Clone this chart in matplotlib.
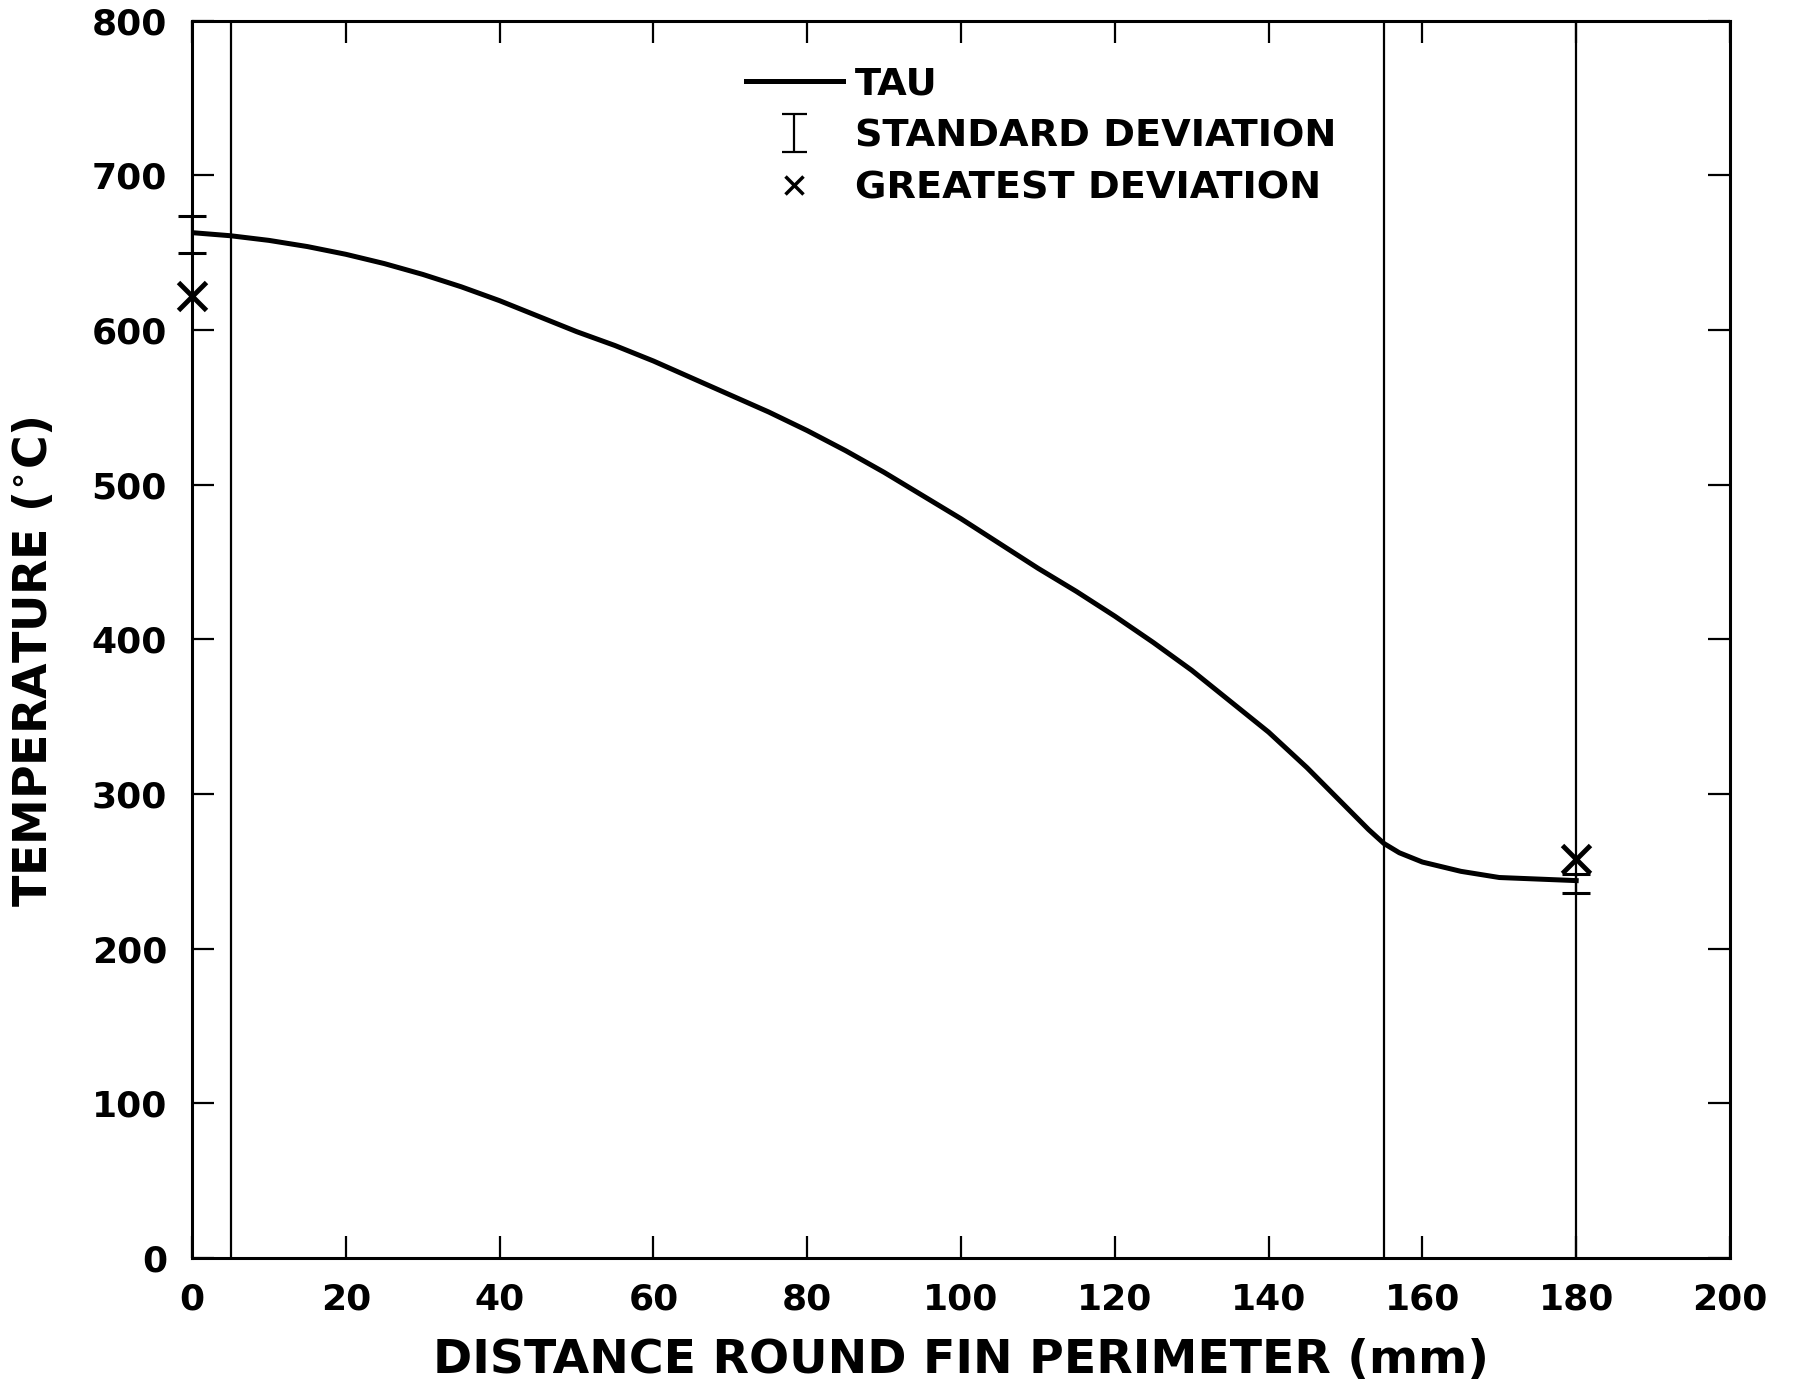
import matplotlib
matplotlib.use('Agg')
import matplotlib.pyplot as plt
from matplotlib.lines import Line2D
import numpy as np

# TAU temperature prediction round the fin perimeter
distance = [0, 5, 10, 15, 20, 25, 30, 35, 40, 45, 50, 55, 60, 65, 70, 75, 80,
            85, 90, 95, 100, 105, 110, 115, 120, 125, 130, 135, 140, 145, 150,
            153, 155, 157, 160, 165, 170, 175, 180]
tau = [663, 661, 658, 654, 649, 643, 636, 628, 619, 609, 599, 590, 580, 569, 558, 547, 535,
       522, 508, 493, 478, 462, 446, 431, 415, 398, 380, 360, 340, 317, 292,
       277, 268, 262, 256, 250, 246, 245, 244]

# measured stations: standard deviation band and greatest deviation
station_x = [0, 180]
std_low = [650, 236]
std_high = [674, 248]
greatest_dev = [622, 258]

# fin section boundaries
boundary_x = [5, 155, 180]

x_ticks = [0, 20, 40, 60, 80, 100, 120, 140, 160, 180, 200]
y_ticks = [0, 100, 200, 300, 400, 500, 600, 700, 800]

plt.rcParams['font.family'] = ['DejaVu Sans']
plt.rcParams['font.weight'] = 'bold'

fig = plt.figure(figsize=(18, 13.86), dpi=100)
ax = fig.add_axes([0.1067, 0.0924, 0.8544, 0.8926])

# section boundaries as thin vertical lines
for bx in boundary_x:
    ax.axvline(bx, color='black', linewidth=1.6, zorder=1)

# main curve
ax.plot(distance, tau, color='black', linewidth=3.6, solid_joinstyle='round', zorder=3)

# standard deviation bars
std_low = np.array(std_low)
std_high = np.array(std_high)
centre = (std_low + std_high) / 2
half = (std_high - std_low) / 2
ax.errorbar(station_x, centre, yerr=half, fmt='none', ecolor='black',
            elinewidth=1.6, capsize=10, capthick=2.2, clip_on=False, zorder=4)

# greatest deviation crosses
ax.plot(station_x, greatest_dev, linestyle='none', marker='x', color='black',
        markersize=20, markeredgewidth=3.5, clip_on=False, zorder=5)

ax.set_xlim(0, 200)
ax.set_ylim(0, 800)
ax.set_xticks(x_ticks)
ax.set_yticks(y_ticks)
ax.tick_params(axis='both', which='major', direction='in', length=16, width=1.6,
               top=True, right=True, labelsize=26, pad=18)
for lbl in ax.get_xticklabels() + ax.get_yticklabels():
    lbl.set_fontweight('bold')

for sp in ax.spines.values():
    sp.set_linewidth(2.2)

ax.set_xlabel('DISTANCE ROUND FIN PERIMETER (mm)', fontsize=34, fontweight='bold', labelpad=15)
ax.set_ylabel('TEMPERATURE ($^{\\circ}$C)', fontsize=33, fontweight='bold')
ax.yaxis.set_label_coords(-0.088, 0.482)

# legend with proxy handles
tau_handle = Line2D([], [], color='black', linewidth=3.6)
std_handle = ax.errorbar([np.nan], [np.nan], yerr=[1], fmt='none', ecolor='black',
                         elinewidth=1.6, capsize=9, capthick=1.6)
dev_handle = Line2D([], [], linestyle='none', marker='x', color='black',
                    markersize=13, markeredgewidth=2.5)
ax.legend([tau_handle, std_handle, dev_handle],
          ['TAU', 'STANDARD DEVIATION', 'GREATEST DEVIATION'],
          loc='upper left', bbox_to_anchor=(0.36, 0.963), frameon=False,
          prop={'weight': 'bold', 'size': 27.5}, handlelength=2.55,
          handletextpad=0.3, labelspacing=0.42, borderpad=0, borderaxespad=0)

fig.savefig('out.png', dpi=100, facecolor='white')
